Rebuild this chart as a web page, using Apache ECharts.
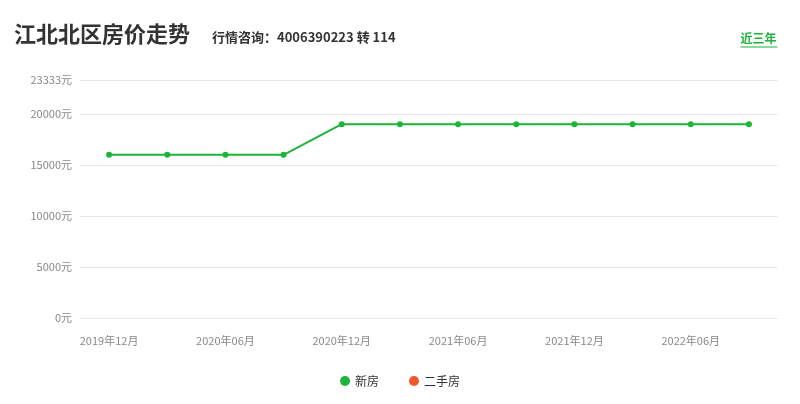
<!DOCTYPE html>
<html>
<head>
<meta charset="utf-8">
<script src="https://cdn.jsdelivr.net/npm/echarts@6/dist/echarts.min.js"></script>
<style>
  html, body { margin: 0; padding: 0; background: #fff; }
  #chart { width: 800px; height: 404px; }
</style>
</head>
<body>
<div id="chart"></div>
<script>
// Quarterly sample months
const months = ['2019年12月', '2020年03月', '2020年06月', '2020年09月', '2020年12月', '2021年03月',
  '2021年06月', '2021年09月', '2021年12月', '2022年03月', '2022年06月', '2022年09月'];
// New-home average price (元/㎡)
const newHomePrices = [16000, 16000, 16000, 16000, 19000, 19000, 19000, 19000, 19000, 19000, 19000, 19000];
// Resale price series (no data for this district)
const resalePrices = [];
const yMax = 23333;

const FONT = '"Noto Sans CJK SC", "Microsoft YaHei", sans-serif';
const GREEN = '#1db43a';
const ORANGE = '#f0562c';

const chart = echarts.init(document.getElementById('chart'));
chart.setOption({
  backgroundColor: '#fff',
  animation: false,
  title: [
    {
      text: '江北北区房价走势',
      left: 9, top: 18,
      textStyle: { fontFamily: FONT, fontSize: 22, fontWeight: 'bold', color: '#333' }
    },
    {
      text: '行情咨询：4006390223 转 114',
      left: 207, top: 26,
      textStyle: { fontFamily: FONT, fontSize: 13, fontWeight: 'bold', color: '#333' }
    }
  ],
  graphic: [
    {
      type: 'group', right: 20, top: 32,
      children: [
        { type: 'text', left: 0, top: 0,
          style: { text: '近三年', font: 'bold 12px ' + FONT, fill: GREEN } },
        { type: 'line', shape: { x1: 0, y1: 15, x2: 37, y2: 15 },
          style: { stroke: GREEN, lineWidth: 1 } }
      ]
    }
  ],
  legend: {
    bottom: 12, left: 'center',
    itemWidth: 10, itemHeight: 10, itemGap: 30,
    icon: 'circle',
    textStyle: { fontFamily: FONT, fontSize: 12, color: '#333' },
    data: ['新房', '二手房']
  },
  grid: { left: 80, right: 22, top: 80, bottom: 86 },
  xAxis: {
    type: 'category',
    data: months,
    boundaryGap: true,
    axisLine: { show: false },
    axisTick: { show: false },
    axisLabel: { interval: 1, margin: 17, fontFamily: FONT, fontSize: 11, color: '#888' }
  },
  yAxis: {
    type: 'value',
    min: 0, max: yMax, interval: 5000,
    axisLine: { show: false },
    axisTick: { show: false },
    axisLabel: {
      formatter: function (v) { return v + '元'; },
      margin: 8, fontFamily: FONT, fontSize: 11, color: '#888'
    },
    splitLine: { lineStyle: { color: '#e8e8e8' } }
  },
  series: [
    {
      name: '新房', type: 'line', data: newHomePrices,
      symbol: 'circle', symbolSize: 6,
      itemStyle: { color: GREEN },
      lineStyle: { color: GREEN, width: 2 }
    },
    {
      name: '二手房', type: 'line', data: resalePrices,
      symbol: 'circle', symbolSize: 6,
      itemStyle: { color: ORANGE },
      lineStyle: { color: ORANGE, width: 2 }
    }
  ]
});
</script>
</body>
</html>
